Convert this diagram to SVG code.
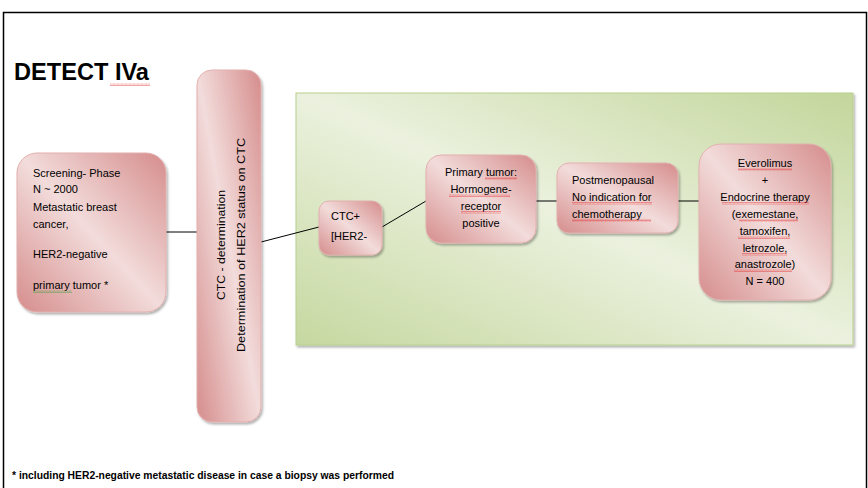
<svg xmlns="http://www.w3.org/2000/svg" width="868" height="488" viewBox="0 0 868 488">
<defs>
  <linearGradient id="pink" x1="0" y1="1" x2="1" y2="0">
    <stop offset="0" stop-color="#d58d8c"/>
    <stop offset="0.5" stop-color="#f2dcdb"/>
    <stop offset="1" stop-color="#d58d8c"/>
  </linearGradient>
  <linearGradient id="green" x1="0" y1="1" x2="1" y2="0">
    <stop offset="0" stop-color="#c6d8a0"/>
    <stop offset="0.5" stop-color="#ebf1de"/>
    <stop offset="1" stop-color="#c3d69b"/>
  </linearGradient>
  <filter id="sh" x="-10%" y="-10%" width="130%" height="130%">
    <feDropShadow dx="1.5" dy="2" stdDeviation="1" flood-color="#000" flood-opacity="0.3"/>
  </filter>
  <pattern id="wavyR" x="0" y="0" width="4" height="3" patternUnits="userSpaceOnUse">
    <path d="M0 2.5 L1 0.5 L2 2.5 L3 0.5 L4 2.5" fill="none" stroke="#e02020" stroke-width="0.5" stroke-opacity="0.8"/>
  </pattern>
  <pattern id="wavyG" x="0" y="0" width="4" height="3" patternUnits="userSpaceOnUse">
    <path d="M0 2.5 L1 0.5 L2 2.5 L3 0.5 L4 2.5" fill="none" stroke="#2ea02e" stroke-width="0.5" stroke-opacity="0.8"/>
  </pattern>
</defs>
<style>
  .node { fill: url(#pink); stroke: #e2b0af; stroke-width: 1; filter: url(#sh); }
  .t { font-family: "Liberation Sans", Arial, sans-serif; font-size: 11px; fill: #000; }
  .c { text-anchor: middle; }
  .conn line { stroke: #000; stroke-width: 1; }
  .sq { fill: url(#wavyR); }
</style>
<rect x="3.5" y="12.5" width="863" height="500" fill="none" stroke="#000" stroke-width="1.5"/>
<text x="14" y="80" font-family="Liberation Sans, Arial, sans-serif" font-weight="bold" font-size="23" textLength="135" lengthAdjust="spacingAndGlyphs">DETECT IVa</text>

<g id="panel">
  <rect x="296" y="93" width="557" height="252" fill="url(#green)" stroke="#b8d08e" stroke-width="1" filter="url(#sh)"/>
</g>

<g class="conn">
  <line x1="166" y1="232" x2="197" y2="232"/>
  <line x1="261" y1="242" x2="319" y2="227"/>
  <line x1="382" y1="227" x2="426" y2="201"/>
  <line x1="536" y1="201" x2="557" y2="201"/>
  <line x1="678" y1="201" x2="699" y2="201"/>
</g>

<g id="screening">
  <rect class="node" x="17" y="153" width="149" height="159" rx="20"/>
  <text class="t" x="33" y="177">Screening- Phase</text>
  <text class="t" x="33" y="193">N ~ 2000</text>
  <text class="t" x="33" y="211">Metastatic breast</text>
  <text class="t" x="33" y="228">cancer,</text>
  <text class="t" x="33" y="258">HER2-negative</text>
  <text class="t" x="33" y="289">primary tumor *</text>
</g>

<g id="ctc-determination">
  <rect class="node" x="197" y="70" width="64" height="352" rx="15"/>
  <text class="t c" transform="translate(225 245) rotate(-90)" font-size="14" textLength="110" lengthAdjust="spacingAndGlyphs">CTC - determination</text>
  <text class="t c" transform="translate(245 245) rotate(-90)" font-size="14" textLength="214" lengthAdjust="spacingAndGlyphs">Determination of HER2 status on CTC</text>
</g>

<g id="ctc-pos">
  <rect class="node" x="319" y="201" width="63" height="54" rx="10"/>
  <text class="t" x="331" y="220">CTC+</text>
  <text class="t" x="331" y="240">[HER2-</text>
</g>

<g id="primary">
  <rect class="node" x="426" y="155" width="110" height="88" rx="15"/>
  <text class="t c" x="481" y="176">Primary tumor:</text>
  <text class="t c" x="481" y="193">Hormogene-</text>
  <text class="t c" x="481" y="210">receptor</text>
  <text class="t c" x="481" y="227">positive</text>
</g>

<g id="postmeno">
  <rect class="node" x="557" y="163" width="121" height="70" rx="12"/>
  <text class="t" x="572" y="184">Postmenopausal</text>
  <text class="t" x="572" y="201">No indication for</text>
  <text class="t" x="572" y="218">chemotherapy</text>
</g>

<g id="everolimus">
  <rect class="node" x="699" y="144" width="132" height="156" rx="22"/>
  <text class="t c" x="765" y="167">Everolimus</text>
  <text class="t c" x="765" y="184">+</text>
  <text class="t c" x="765" y="201">Endocrine therapy</text>
  <text class="t c" x="765" y="218">(exemestane,</text>
  <text class="t c" x="765" y="235">tamoxifen,</text>
  <text class="t c" x="765" y="252">letrozole,</text>
  <text class="t c" x="765" y="268">anastrozole)</text>
  <text class="t c" x="765" y="285">N = 400</text>
</g>

<g id="spellcheck">
  <rect class="sq" x="110" y="83" width="40" height="3"/>
  <rect x="33" y="290" width="39" height="3" fill="url(#wavyG)"/>
  <rect class="sq" x="485" y="177" width="32" height="3"/>
  <rect class="sq" x="449" y="194" width="61" height="3"/>
  <rect class="sq" x="461" y="211" width="40" height="3"/>
  <rect class="sq" x="572" y="202" width="80" height="3"/>
  <rect class="sq" x="572" y="219" width="79" height="3"/>
  <rect class="sq" x="738" y="168" width="54" height="3"/>
  <rect class="sq" x="722" y="202" width="87" height="3"/>
  <rect class="sq" x="739" y="219" width="59" height="3"/>
  <rect class="sq" x="738" y="236" width="52" height="3"/>
  <rect class="sq" x="742" y="253" width="45" height="3"/>
  <rect class="sq" x="734" y="269" width="58" height="3"/>
</g>

<text x="12" y="479" font-family="Liberation Sans, Arial, sans-serif" font-weight="bold" font-size="11.5" textLength="382" lengthAdjust="spacingAndGlyphs">* including HER2-negative metastatic disease in case a biopsy was performed</text>
</svg>
